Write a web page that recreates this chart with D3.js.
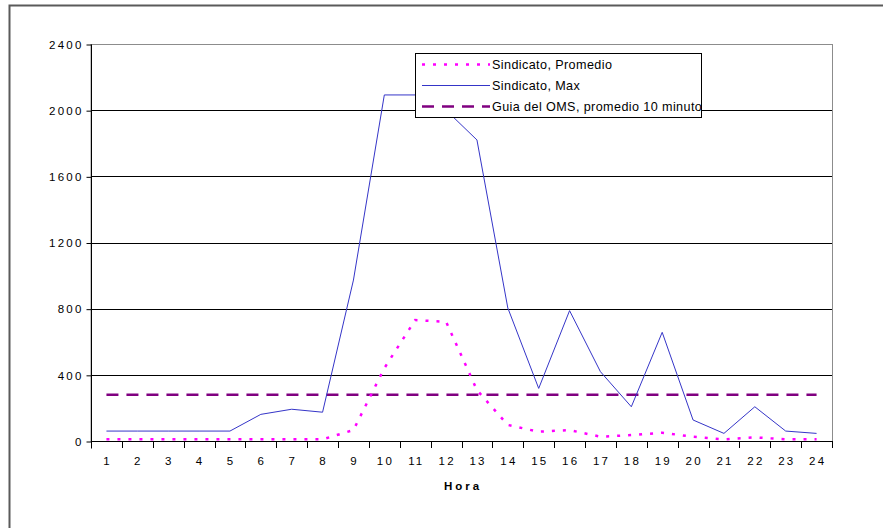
<!DOCTYPE html>
<html lang="es">
<head>
<meta charset="UTF-8">
<script src="https://d3js.org/d3.v7.min.js"></script>
<title>Sindicato</title>
<style>
  body { margin: 0; background: #fff; }
  svg text { font-family: "Liberation Sans", Arial, sans-serif; fill: #000; }
</style>
</head>
<body>
<svg id="chart" width="883" height="528"></svg>
<script>
// data
var horas = [1,2,3,4,5,6,7,8,9,10,11,12,13,14,15,16,17,18,19,20,21,22,23,24];
var promedio = [10,10,10,10,10,10,10,10,66,440,731,721,308,97,56,66,26,36,50,26,10,22,10,10];
var maximo = [60,60,60,60,60,161,192,174,973,2092,2092,2000,1820,804,318,788,419,207,657,127,46,207,60,46];
var guiaOMS = horas.map(function(){ return 280; });
var yTicks = [0,400,800,1200,1600,2000,2400];
var nombres = ["Sindicato, Promedio", "Sindicato, Max", "Guia del OMS, promedio 10 minuto"];

var svg = d3.select("#chart");

// outer chart frame (runs past the window on right and bottom)
svg.append("rect")
  .attr("x", 9.5).attr("y", 5.5)
  .attr("width", 900).attr("height", 600)
  .attr("fill", "none")
  .attr("stroke", "#5a5a5a")
  .attr("stroke-width", 2);

// plot area edges
var pL = 91, pR = 832, pT = 44, pB = 441;

var x = d3.scaleBand().domain(horas).range([pL, pR]).padding(0);
var y = d3.scaleLinear().domain([0, 2400]).range([pB, pT]);

// plot area border
svg.append("rect")
  .attr("x", pL).attr("y", pT + 0.5)
  .attr("width", pR - pL + 0.5).attr("height", pB - pT)
  .attr("fill", "none")
  .attr("stroke", "#8c8c8c")
  .attr("stroke-width", 1);

// gridlines
svg.append("g").selectAll("line")
  .data(yTicks.filter(function(d){ return d > 0 && d < 2400; }))
  .enter().append("line")
  .attr("x1", pL).attr("x2", pR)
  .attr("y1", function(d){ return Math.round(y(d)) + 0.5; })
  .attr("y2", function(d){ return Math.round(y(d)) + 0.5; })
  .attr("stroke", "#000").attr("stroke-width", 1);

// y axis
var yAxis = svg.append("g")
  .attr("transform", "translate(" + (pL + 0.5) + ",0.5)")
  .call(d3.axisLeft(y).tickValues(yTicks).tickSize(5).tickPadding(3).tickFormat(d3.format("d")));
yAxis.select(".domain").attr("stroke", "#000").attr("d", "M0," + pT + "V" + (pB + 7));
yAxis.selectAll("text")
  .style("font-size", "11.5px")
  .style("letter-spacing", "2.2px")
  .attr("font-family", null);

// x axis: labels at band centres, ticks on band edges
var xAxis = svg.append("g")
  .attr("transform", "translate(0," + (pB + 0.5) + ")")
  .call(d3.axisBottom(x).tickSize(0).tickPadding(15));
xAxis.select(".domain").attr("stroke", "#000").attr("d", "M" + pL + ",0H" + (pR + 1));
xAxis.selectAll("text")
  .style("font-size", "11.5px")
  .style("letter-spacing", "2.2px")
  .attr("dx", "1.1px")
  .attr("font-family", null);

var edges = horas.map(function(h){ return x(h); }).concat([pR]);
svg.append("g").selectAll("line")
  .data(edges.slice(1))
  .enter().append("line")
  .attr("x1", function(d){ return Math.round(d) + 0.5; })
  .attr("x2", function(d){ return Math.round(d) + 0.5; })
  .attr("y1", pB).attr("y2", pB + 7)
  .attr("stroke", "#000");

svg.append("text")
  .attr("x", 463).attr("y", 490)
  .attr("text-anchor", "middle")
  .style("font-size", "11.5px")
  .style("font-weight", "bold")
  .style("letter-spacing", "3px")
  .text("Hora");

// series
var cx = function(d, i){ return x(horas[i]) + x.bandwidth() / 2; };
var line = d3.line().x(cx).y(function(d){ return y(d); });

svg.append("path").datum(guiaOMS)
  .attr("d", line)
  .attr("fill", "none")
  .attr("stroke", "#800080")
  .attr("stroke-width", 2.5)
  .attr("stroke-dasharray", "12,8");

svg.append("path").datum(maximo)
  .attr("d", line)
  .attr("fill", "none")
  .attr("stroke", "#3535c8")
  .attr("stroke-width", 1);

svg.append("path").datum(promedio)
  .attr("d", line)
  .attr("fill", "none")
  .attr("stroke", "#ff00ff")
  .attr("stroke-width", 2.5)
  .attr("stroke-dasharray", "3,8");

// legend
var lg = { x: 415, y: 53, w: 286, h: 64 };
svg.append("clipPath").attr("id", "legclip")
  .append("rect").attr("x", lg.x).attr("y", lg.y).attr("width", lg.w).attr("height", lg.h);
svg.append("rect")
  .attr("x", lg.x + 0.5).attr("y", lg.y + 0.5)
  .attr("width", lg.w).attr("height", lg.h)
  .attr("fill", "#fff").attr("stroke", "#000");

var legStyles = [
  { color: "#ff00ff", width: 2.5, dash: "3,8" },
  { color: "#3535c8", width: 1, dash: null },
  { color: "#800080", width: 2.5, dash: "12,8" }
];
var rowY = [64, 85, 106];
var leg = svg.append("g").attr("clip-path", "url(#legclip)");
nombres.forEach(function(n, i){
  leg.append("line")
    .attr("x1", 422).attr("x2", 490)
    .attr("y1", rowY[i] + 0.5).attr("y2", rowY[i] + 0.5)
    .attr("stroke", legStyles[i].color)
    .attr("stroke-width", legStyles[i].width)
    .attr("stroke-dasharray", legStyles[i].dash);
  leg.append("text")
    .attr("x", 492).attr("y", rowY[i] + 4.5)
    .style("font-size", "12.6px")
    .style("letter-spacing", "0.4px")
    .text(n);
});
</script>
</body>
</html>
